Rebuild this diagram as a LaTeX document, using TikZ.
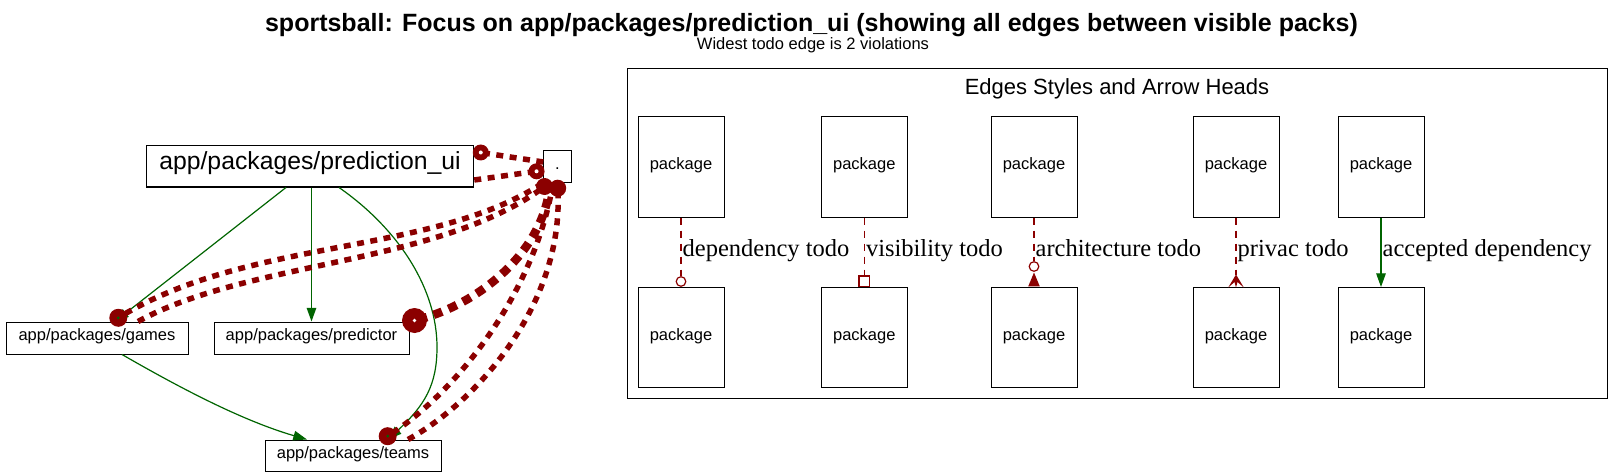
\documentclass[tikz,border=0pt]{standalone}
\usepackage{fontspec}
\setmainfont{Liberation Sans}
\newfontfamily\labelserif{Liberation Serif}
\usetikzlibrary{arrows.meta}
\definecolor{dred}{RGB}{139,0,0}
\definecolor{dgreen}{RGB}{0,100,0}
\begin{document}
\begin{tikzpicture}[x=1pt,y=-1pt,
  pkg/.style={draw, line width=1pt, inner sep=0pt, text height=0.75em, text depth=0.25em, font=\fontsize{16.5}{18}\selectfont},
  okedge/.style={draw=dgreen, line width=1.2pt},
  okarrow/.style={okedge, -{Triangle[length=13.75pt,width=9.6pt]}},
  todo/.style={draw=dred, line width=5.5pt, dash pattern=on 7pt off 6.5pt},
  todowide/.style={draw=dred, line width=8.5pt, dash pattern=on 9pt off 7pt},
  legtodo/.style={draw=dred, line width=1.2pt, dash pattern=on 7pt off 6pt},
  leglabel/.style={anchor=base west, inner sep=0pt, font=\labelserif\fontsize{24.5}{28}\selectfont},
  legbox/.style={pkg, minimum width=86pt, minimum height=100pt},
  opendot/.style={draw=dred, line width=1.2pt, fill=white},
]
\useasboundingbox (0,0) rectangle (1623,476);

% titles
\node[anchor=base, font=\bfseries\fontsize{25}{28}\selectfont] (title) at (811.5,31.5)
  {sportsball: Focus on app/packages/prediction\_ui (showing all edges between visible packs)};
\node[anchor=base, font=\fontsize{16.5}{18}\selectfont] (subtitle) at (813,49.4)
  {Widest todo edge is 2 violations};

% main graph nodes
\node[pkg, font=\fontsize{24.75}{28}\selectfont, minimum width=327.5pt, minimum height=41pt] (pui) at (310,166.5) {app/packages/prediction\_ui};
\node[pkg, minimum width=27.5pt, minimum height=32pt] (dotn) at (557.5,167) {.};
\node[pkg, minimum width=182pt, minimum height=32pt] (games) at (97,338) {app/packages/games};
\node[pkg, minimum width=195pt, minimum height=32pt] (predictor) at (311.5,338) {app/packages/predictor};
\node[pkg, minimum width=176pt, minimum height=31pt] (teams) at (353,455.5) {app/packages/teams};

% arrow-head circle centres
\coordinate (cA) at ([xshift=6.5pt,yshift=-7pt]pui.north east);
\coordinate (cB) at ([xshift=-6.7pt,yshift=-4.3pt]dotn.west);
\coordinate (cC) at ([xshift=1.3pt,yshift=-3pt]dotn.south west);
\coordinate (cD) at ([xshift=0.2pt,yshift=-4.7pt]dotn.south);
\coordinate (cG) at ([xshift=21.3pt,yshift=3.7pt]games.north);
\coordinate (cP) at ([xshift=5pt,yshift=1pt]predictor.north east);
\coordinate (cT) at ([xshift=34.7pt,yshift=3.3pt]teams.north);

% accepted dependencies
\draw[okarrow] ([xshift=-24pt]pui.south) -- ([xshift=18pt]games.north);
\draw[okarrow] (pui.south -| predictor.north) -- (predictor.north);
\draw[okarrow] ([xshift=29pt]pui.south) .. controls (400,230) and (437,290) .. (437,347)
  .. controls (437,385) and (425,405) .. ([xshift=35pt]teams.north);
\draw[okarrow] ([xshift=25pt]games.south) .. controls (175,385) and (240,420) .. ([xshift=-46pt]teams.north);

% todo edges
\draw[todo] ([yshift=5pt]dotn.west) -- (cA);
\draw[todo] ([yshift=-13.5pt]pui.east) -- (cB);
\draw[todo] ([xshift=-1pt]dotn.south west) .. controls (430,256) and (250,237) .. (cG);
\draw[todo] ([xshift=41pt]games.north) .. controls (250,260) and (440,265) .. (cC);
\draw[todowide] ([xshift=-7.5pt]dotn.south) .. controls (545,250) and (480,305) .. (cP);
\draw[todo] ([xshift=-4.5pt]dotn.south) .. controls (535,290) and (460,390) .. (cT);
\draw[todo] ([xshift=55pt]teams.north) .. controls (480,400) and (565,300) .. (cD);

% heads
\fill[dred] (cA) circle (8pt);  \fill[white] (cA) circle (2pt);
\fill[dred] (cB) circle (8pt);  \fill[white] (cB) circle (2pt);
\fill[dred] (cC) circle (8.5pt);
\fill[dred] (cD) circle (8.5pt);
\fill[dred] (cG) circle (9pt);  \fill[dgreen] (cG) circle (1.5pt);
\fill[dred] (cT) circle (9pt);  \fill[dgreen] (cT) circle (1.5pt);
\fill[dred] (cP) circle (12.5pt); \fill[white] (cP) circle (1.8pt);

% legend
\node[draw, line width=1pt, minimum width=980pt, minimum height=329pt, inner sep=0pt] (legend) at (1117,233.5) {};
\node[anchor=base, font=\fontsize{22}{24}\selectfont] (legtitle) at (1117,95) {Edges Styles and Arrow Heads};

\foreach \i/\x in {1/681,2/864.3,3/1034,4/1236,5/1381} {
  \node[legbox] (t\i) at (\x,167) {package};
  \node[legbox] (b\i) at (\x,337.5) {package};
}

% dependency todo
\draw[legtodo] (t1.south) -- ([yshift=11pt]b1.north);
\draw[opendot] ([yshift=5.5pt]b1.north) circle (4.8pt);
\node[leglabel] (l1) at (682.5,256.7) {dependency todo};

% visibility todo
\draw[legtodo] (t2.south) -- ([yshift=11pt]b2.north);
\draw[opendot] ([xshift=-5.3pt,yshift=0.7pt]b2.north) rectangle ([xshift=5.3pt,yshift=11pt]b2.north);
\node[leglabel] (l2) at (865.8,256.7) {visibility todo};

% architecture todo
\draw[legtodo] (t3.south) -- ([yshift=25.8pt]b3.north);
\fill[dred] ([xshift=-5.8pt,yshift=0.6pt]b3.north) -- ([yshift=14.5pt]b3.north) -- ([xshift=5.8pt,yshift=0.6pt]b3.north) -- cycle;
\draw[opendot] ([yshift=20.5pt]b3.north) circle (4.8pt);
\node[leglabel] (l3) at (1035.5,256.7) {architecture todo};

% privac todo
\draw[legtodo] (t4.south) -- ([yshift=12.5pt]b4.north);
\fill[dred] ([yshift=12.5pt]b4.north) -- ([xshift=-7.8pt,yshift=-0.5pt]b4.north) -- ([xshift=-1.5pt,yshift=5pt]b4.north)
  -- ([yshift=-0.5pt]b4.north) -- ([xshift=1.5pt,yshift=5pt]b4.north) -- ([xshift=7.8pt,yshift=-0.5pt]b4.north) -- cycle;
\node[leglabel] (l4) at (1237.5,256.7) {privac todo};

% accepted dependency
\draw[okarrow] (t5.south) -- (b5.north);
\node[leglabel] (l5) at (1382.5,256.7) {accepted dependency};
\end{tikzpicture}
\end{document}
